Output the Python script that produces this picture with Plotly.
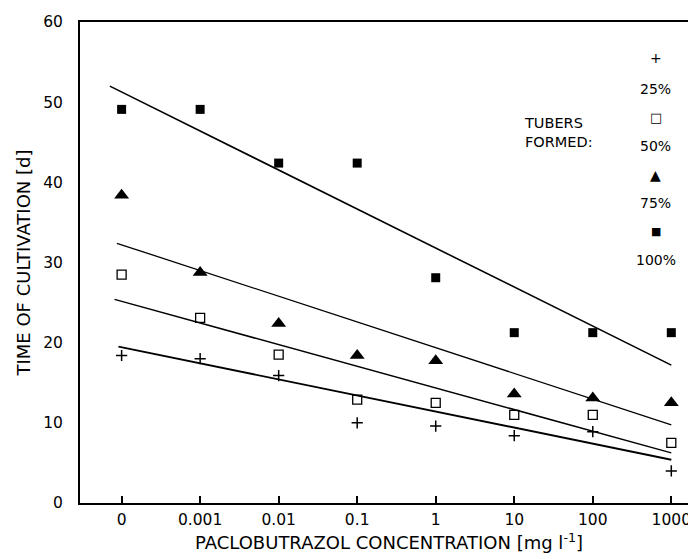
import plotly.graph_objects as go

categories = ["0", "0.001", "0.01", "0.1", "1", "10", "100", "1000"]
x_idx = list(range(len(categories)))

t25 = [18.4, 18.0, 15.9, 10.0, 9.6, 8.4, 8.9, 4.0]
t50 = [28.5, 23.1, 18.5, 12.9, 12.5, 11.0, 11.0, 7.5]
t75 = [38.4, 28.75, 22.4, 18.4, 17.75, 13.6, 13.1, 12.5]
t100 = [49.1, 49.1, 42.4, 42.4, 28.1, 21.25, 21.25, 21.25]

# regression line end points (x index, value)
fit_x25 = [-0.04, 7.0]
fit_y25 = [19.5, 5.4]
fit_x50 = [-0.09, 7.0]
fit_y50 = [25.4, 6.25]
fit_x75 = [-0.06, 7.0]
fit_y75 = [32.4, 9.75]
fit_x100 = [-0.15, 7.0]
fit_y100 = [52.0, 17.2]

legend_labels = ["25%", "50%", "75%", "100%"]
legend_symbols = ["+", "□", "▲", "■"]

FONT = "DejaVu Sans, Liberation Sans, Arial, sans-serif"
fig = go.Figure()

for fx, fy, w in [(fit_x100, fit_y100, 1.6), (fit_x75, fit_y75, 1.3),
                  (fit_x50, fit_y50, 1.5), (fit_x25, fit_y25, 1.9)]:
    fig.add_trace(go.Scatter(x=fx, y=fy, mode="lines",
                             line=dict(color="black", width=w),
                             showlegend=False, hoverinfo="skip"))

fig.add_trace(go.Scatter(x=x_idx, y=t25, mode="markers", name="25%",
                         marker=dict(symbol="cross-thin", size=8,
                                     line=dict(color="black", width=1.5))))
fig.add_trace(go.Scatter(x=x_idx, y=t50, mode="markers", name="50%",
                         marker=dict(symbol="square-open", size=9, color="black",
                                     line=dict(color="black", width=1.3))))
fig.add_trace(go.Scatter(x=x_idx, y=t75, mode="markers", name="75%",
                         marker=dict(symbol="triangle-up", size=13, color="black")))
fig.add_trace(go.Scatter(x=x_idx, y=t100, mode="markers", name="100%",
                         marker=dict(symbol="square", size=9, color="black")))

annotations = [
    dict(text="TUBERS<br>FORMED:", x=0.715, y=0.770, xref="paper", yref="paper",
         showarrow=False, align="left", font=dict(size=14.5, family=FONT, color="black"),
         xanchor="left", yanchor="middle"),
]
sym_y = [0.925, 0.802, 0.682, 0.565]
lab_y = [0.861, 0.742, 0.624, 0.505]
sym_size = [14, 13, 14, 11]
for s, l, sy, ly, ss in zip(legend_symbols, legend_labels, sym_y, lab_y, sym_size):
    annotations.append(dict(text=s, x=0.932, y=sy, xref="paper", yref="paper",
                            showarrow=False, font=dict(size=ss, family=FONT, color="#000000"),
                            xanchor="center", yanchor="middle"))
    annotations.append(dict(text=l, x=0.932, y=ly, xref="paper", yref="paper",
                            showarrow=False, font=dict(size=14, family=FONT, color="black"),
                            xanchor="center", yanchor="middle"))

fig.update_layout(
    width=696, height=559,
    margin=dict(l=72, r=6, t=14, b=64),
    paper_bgcolor="white", plot_bgcolor="white",
    showlegend=False,
    font=dict(family=FONT, size=15, color="black"),
    annotations=annotations,
    xaxis=dict(range=[-0.53, 7.34], tickmode="array", tickvals=x_idx, ticktext=categories,
               showline=True, linecolor="black", linewidth=2, mirror=True,
               ticks="inside", ticklen=7, tickwidth=1.5, tickcolor="black",
               ticklabelstandoff=1, showgrid=False, zeroline=False,
               tickfont=dict(size=15.5),
               title=dict(text="PACLOBUTRAZOL CONCENTRATION [mg l<sup>-1</sup>]",
                          font=dict(size=18), standoff=9)),
    yaxis=dict(range=[0, 60], tickmode="array", tickvals=[0, 10, 20, 30, 40, 50, 60],
               showline=True, linecolor="black", linewidth=2,
               ticks="", ticklabelstandoff=12, showgrid=False, zeroline=False,
               tickfont=dict(size=15.5),
               title=dict(text="TIME OF CULTIVATION [d]", font=dict(size=18), standoff=8)),
)

fig.write_html("out.html")
